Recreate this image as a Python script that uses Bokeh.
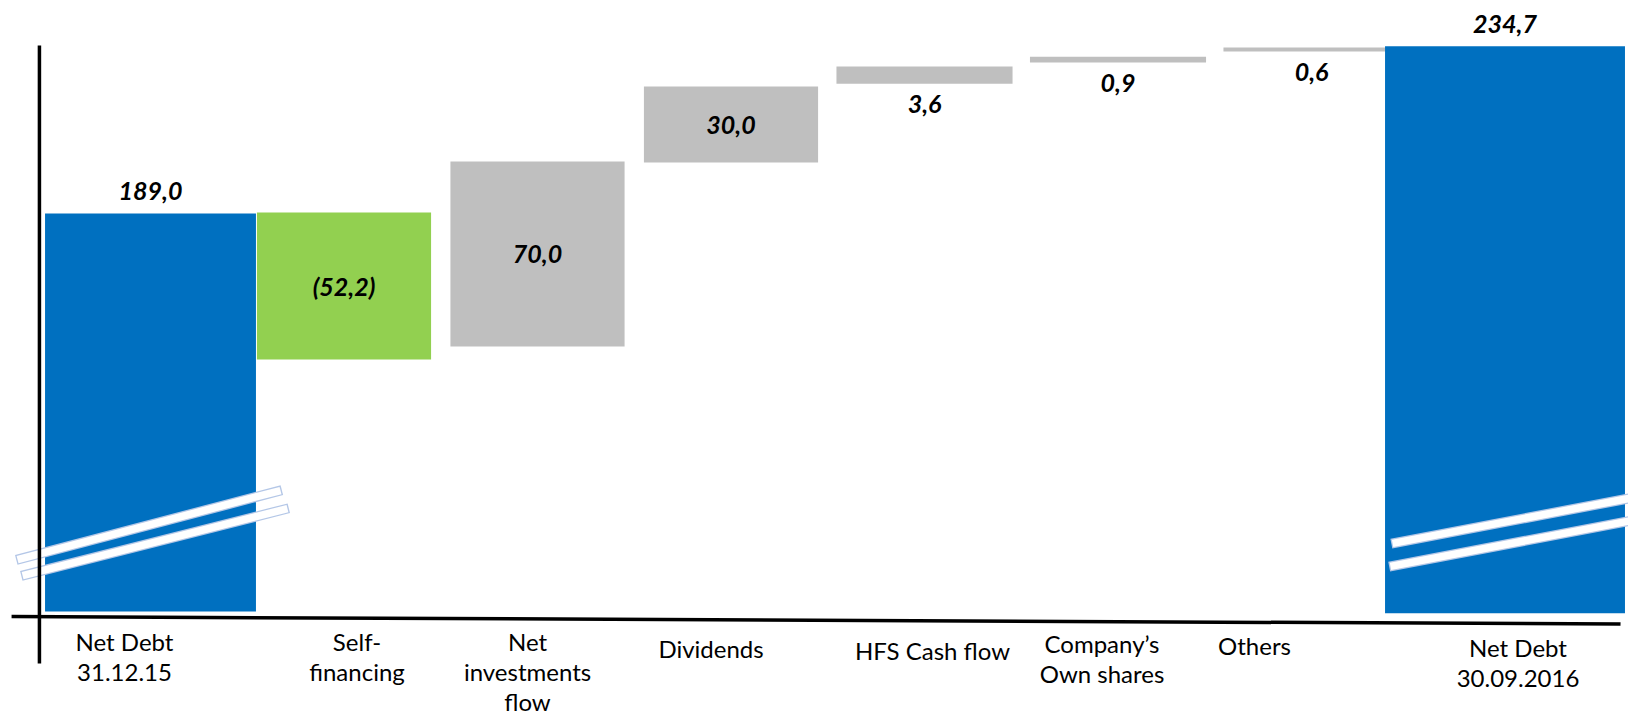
from bokeh.plotting import figure
from bokeh.models import Range1d, ColumnDataSource
from bokeh.core.properties import value
from bokeh.embed import file_html
from bokeh.resources import INLINE

# ---------------- data ----------------
categories = ["Net Debt\n31.12.15", "Self-\nfinancing", "Net\ninvestments\nflow",
              "Dividends", "HFS Cash flow", "Company\u2019s\nOwn shares", "Others",
              "Net Debt\n30.09.2016"]
values = [189.0, -52.2, 70.0, 30.0, 3.6, 0.9, 0.6, 234.7]
value_labels = ["189,0", "(52,2)", "70,0", "30,0", "3,6", "0,9", "0,6", "234,7"]
# bar extents as drawn (the axis is broken, so the totals are truncated)
bar_low = [41.6, 134.9, 139.7, 207.9, 237.1, 244.9, 249.0, 40.9]
bar_high = [189.0, 189.4, 208.3, 236.0, 243.4, 247.1, 250.5, 250.9]
kind = ["total", "decrease", "increase", "increase", "increase", "increase", "increase", "total"]

# ---------------- styles / layout ----------------
kind_color = {"total": "#0070C0", "decrease": "#92D050", "increase": "#BFBFBF"}
bar_width = [1.09, 0.90, 0.90, 0.90, 0.91, 0.91, 0.91, 1.24]
label_place = ["above", "center", "center", "center", "below", "below", "below", "above"]
place_offset = {"above": -22, "center": 0, "below": 20}
cat_dx = [-26, 13, -10, -20, 8, -16, -57, 13]      # px nudges of category texts
cat_dy = [0, 0, 0, 7, 9, 2, 4, 6]
cat_label_level = 36.0

n = len(categories)
xs = list(range(n))

p = figure(width=1628, height=717, output_backend="svg", toolbar_location=None,
           x_range=Range1d(-0.7752, 7.6382), y_range=Range1d(2.333, 267.889),
           x_axis_location=None, y_axis_location=None, min_border=0,
           outline_line_color=None, background_fill_color="white")
p.xgrid.visible = False
p.ygrid.visible = False

src = ColumnDataSource(dict(
    x=xs, low=bar_low, high=bar_high, w=bar_width,
    color=[kind_color[k] for k in kind],
))
p.vbar(x="x", bottom="low", top="high", width="w", fill_color="color",
       line_color=None, source=src)

# axis break markers (decoration): white strip with a thin light-blue outline
def brk(x0, y0, x1, y1, ext=0.005):
    dx, dy = x1 - x0, y1 - y0
    p.line([x0 - ext * dx, x1 + ext * dx], [y0 - ext * dy, y1 + ext * dy],
           line_color="#B4C7E7", line_width=10)
    p.line([x0, x1], [y0, y1], line_color="white", line_width=7.5)

brk(-0.687, 60.85, 0.672, 86.4)
brk(-0.661, 54.9, 0.708, 79.7)
brk(6.419, 66.8, 7.70, 84.3)
brk(6.408, 58.3, 7.70, 75.9)

# axis lines (crossing style)
p.line([-0.574, -0.574], [22.3, 251.2], line_color="black", line_width=3.5)
p.line([-0.718, 7.597], [39.74, 36.96], line_color="black", line_width=3.5)

# value labels
vy = []
voff = []
for lo, hi, pl in zip(bar_low, bar_high, label_place):
    if pl == "above":
        vy.append(hi)
    elif pl == "below":
        vy.append(lo)
    else:
        vy.append((lo + hi) / 2)
    voff.append(place_offset[pl])
vsrc = ColumnDataSource(dict(x=xs, y=vy, t=value_labels, off=voff))
p.text(x="x", y="y", text="t", y_offset="off", source=vsrc,
       text_font=value("Lato"), text_font_size="25px", text_font_style="bold italic",
       text_align="center", text_baseline="middle", text_color="black")

# category labels
csrc = ColumnDataSource(dict(x=xs, y=[cat_label_level] * n, t=categories,
                             dx=cat_dx, dy=cat_dy))
p.text(x="x", y="y", text="t", x_offset="dx", y_offset="dy", source=csrc,
       text_font=value("Lato"), text_font_size="24px", text_align="center",
       text_baseline="top", text_line_height=1.05, text_color="black")

open("out.html", "w").write(file_html(p, INLINE))
